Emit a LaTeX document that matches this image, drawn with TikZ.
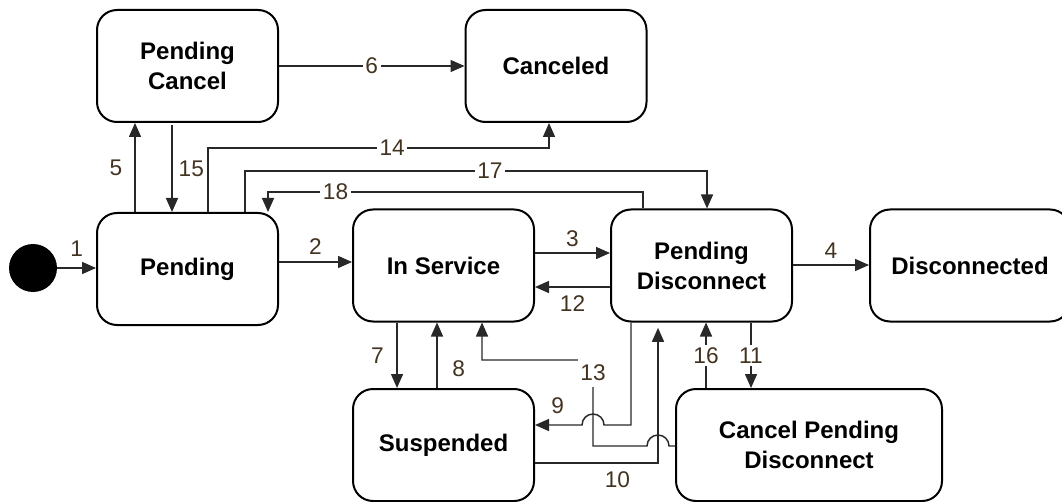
\documentclass[tikz,border=0pt]{standalone}
\usepackage{fontspec}
\setmainfont{Liberation Sans}
\usetikzlibrary{arrows.meta}
\definecolor{lblcol}{RGB}{66,50,32}
\definecolor{wirecol}{RGB}{40,40,40}
\begin{document}
\begin{tikzpicture}[x=0.75pt,y=-0.75pt,
  state/.style={draw,line width=1.5pt,rounded corners=15pt,minimum width=135.75pt,
    minimum height=84pt,align=center,font=\bfseries\fontsize{18}{22.5}\selectfont},
  wire/.style={draw=wirecol,line width=1.1pt,-{Triangle[length=10.5pt,width=9pt]}},
  lbl/.style={text=lblcol,font=\fontsize{17}{17}\selectfont,inner sep=1pt},
  onl/.style={lbl,fill=white,inner sep=2pt}]
  \useasboundingbox (0,0) rectangle (1062,502);
  \node[circle,fill=black,minimum size=36pt,inner sep=0pt] (init) at (33,268) {};
  \node[state] (pcancel) at (187.5,66) {Pending\\Cancel};
  \node[state] (canceled) at (556,66) {Canceled};
  \node[state] (pending) at (187.5,269) {Pending};
  \node[state] (inserv) at (443.5,265.5) {In Service};
  \node[state] (pdisc) at (701.5,265.5) {Pending\\Disconnect};
  \node[state,minimum width=150pt] (disc) at (970,265.5) {Disconnected};
  \node[state] (susp) at (443.5,445) {Suspended};
  \node[state,minimum width=199.5pt] (cpd) at (809,445) {Cancel Pending\\Disconnect};

  \draw[wire] (init) -- (init -| pending.west) node[lbl,midway,above=7pt] {1};
  \draw[wire] (pending.east |- 0,262) -- (inserv.west |- 0,262) node[lbl,midway,above=4pt] {2};
  \draw[wire] (inserv.east |- 0,253) -- (pdisc.west |- 0,253) node[lbl,midway,above=3pt] {3};
  \draw[wire] (pdisc.west |- 0,287) -- (inserv.east |- 0,287) node[lbl,midway,below=5pt] {12};
  \draw[wire] (pdisc.east |- 0,265) -- (disc.west |- 0,265) node[lbl,midway,above=3pt] {4};
  \draw[wire] (135,0 |- pending.north) -- (135,0 |- pcancel.south) node[lbl,midway,left=8pt] {5};
  \draw[wire] (172,125) -- (172,0 |- pending.north) node[lbl,midway,right=3.5pt] {15};
  \draw[wire] (pcancel.east |- 0,66) -- (canceled.west |- 0,66) node[onl,midway] {6};
  \draw[wire] (208,0 |- pending.north) -- (208,148) -- (549,148) node[onl,pos=0.54] {14}
    -- (549,0 |- canceled.south);
  \draw[wire] (245,0 |- pending.north) -- (245,171) -- (707,171) node[onl,pos=0.53] {17}
    -- (707,0 |- pdisc.north);
  \draw[wire] (643,0 |- pdisc.north) -- (643,192) -- (268,192) node[onl,pos=0.82] {18}
    -- (268,0 |- pending.north);
  \draw[wire] (397,0 |- inserv.south) -- (397,0 |- susp.north) node[lbl,midway,left=8.5pt] {7};
  \draw[wire] (437,0 |- susp.north) -- (437,0 |- inserv.south) node[lbl,pos=0.3,right=10pt] {8};
  \draw[wire] (cpd.west |- 0,446) -- (669,446) arc[start angle=0,end angle=180,radius=8.25pt]
    -- (593,446) -- (593,360) node[onl,anchor=north,inner ysep=4.5pt,yshift=1.5pt] {13}
    -- (482,360) -- (482,0 |- inserv.south);
  \draw[wire] (631,0 |- pdisc.south) -- (631,425) -- (604,425)
    arc[start angle=0,end angle=180,radius=8.25pt]
    -- (susp.east |- 0,425) node[lbl,pos=0.52,above=7pt] {9};
  \draw[wire,shorten >=4pt] (susp.east |- 0,463) -- (658,463) node[lbl,pos=0.67,below=5pt] {10}
    -- (658,0 |- pdisc.south);
  \draw[wire] (706,0 |- cpd.north) -- (706,0 |- pdisc.south) node[onl,midway] {16};
  \draw[wire] (751,0 |- pdisc.south) -- (751,0 |- cpd.north) node[onl,midway] {11};
\end{tikzpicture}
\end{document}
